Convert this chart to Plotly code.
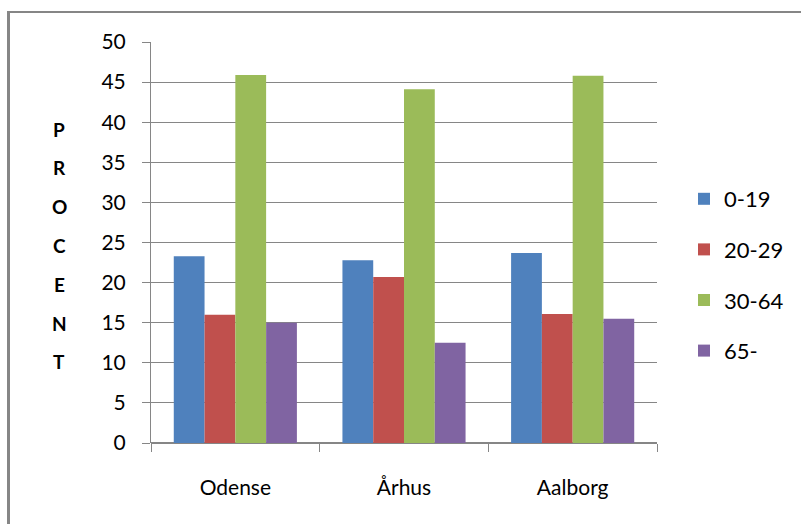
import plotly.graph_objects as go

cities = ["Odense", "Århus", "Aalborg"]
series_names = ["0-19", "20-29", "30-64", "65-"]
v_0_19 = [23.3, 22.8, 23.7]
v_20_29 = [16.0, 20.7, 16.1]
v_30_64 = [45.9, 44.1, 45.8]
v_65 = [15.0, 12.5, 15.5]
colors = ["#4F81BD", "#C0504D", "#9BBB59", "#8064A2"]
y_title = "PROCENT"

W, H = 801, 524
ML, MR, MT, MB = 151, 144, 42, 81
PW, PH = W - ML - MR, H - MT - MB

def px(x):
    return (x - ML) / PW

def py(y):
    return 1 - (y - MT) / PH

FONT = "Lato, sans-serif"
GRID = "#868686"

fig = go.Figure()
for i, (name, vals) in enumerate(zip(series_names, [v_0_19, v_20_29, v_30_64, v_65])):
    fig.add_trace(go.Bar(x=cities, y=vals, name=name, marker=dict(color=colors[i], line=dict(width=0)),
                         legendgroup=name))

fig.update_layout(
    width=W, height=H,
    margin=dict(l=ML, r=MR, t=MT, b=MB),
    paper_bgcolor="white", plot_bgcolor="white",
    barmode="group", bargap=0.27, bargroupgap=0,
    font=dict(family=FONT, size=21, color="#000000"),
    showlegend=True,
    legend=dict(x=px(684), y=py(178), xanchor="left", yanchor="top",
                font=dict(family=FONT, size=22, color="#000"),
                tracegroupgap=19, traceorder="grouped", itemwidth=30,
                bgcolor="rgba(0,0,0,0)"),
    xaxis=dict(showgrid=False, showline=False, ticks="outside", tickson="boundaries",
               ticklen=8, tickcolor=GRID, tickwidth=1, ticklabelstandoff=30,
               tickfont=dict(family=FONT, size=21)),
    yaxis=dict(range=[0, 50], dtick=5, showgrid=True, gridcolor=GRID, gridwidth=1,
               showline=True, linecolor=GRID, linewidth=1,
               ticks="outside", ticklen=8, tickcolor=GRID, tickwidth=1, ticklabelstandoff=12,
               zeroline=True, zerolinecolor=GRID, zerolinewidth=2,
               tickfont=dict(family=FONT, size=21)),
)

# chart border (left and top edges visible)
fig.add_shape(type="line", xref="paper", yref="paper", x0=px(8.5), x1=px(8.5), y0=py(12), y1=py(H + 5),
              line=dict(color=GRID, width=3))
fig.add_shape(type="line", xref="paper", yref="paper", x0=px(7), x1=px(W + 5), y0=py(12), y1=py(12),
              line=dict(color=GRID, width=2))

# stacked vertical title
for k, ch in enumerate(y_title):
    fig.add_annotation(text=ch, xref="paper", yref="paper", x=px(59), y=py(129 + k * 38.8),
                       showarrow=False, xanchor="center", yanchor="middle",
                       font=dict(family=FONT, size=19, color="#000", weight="bold"))

fig.write_html("out.html")
